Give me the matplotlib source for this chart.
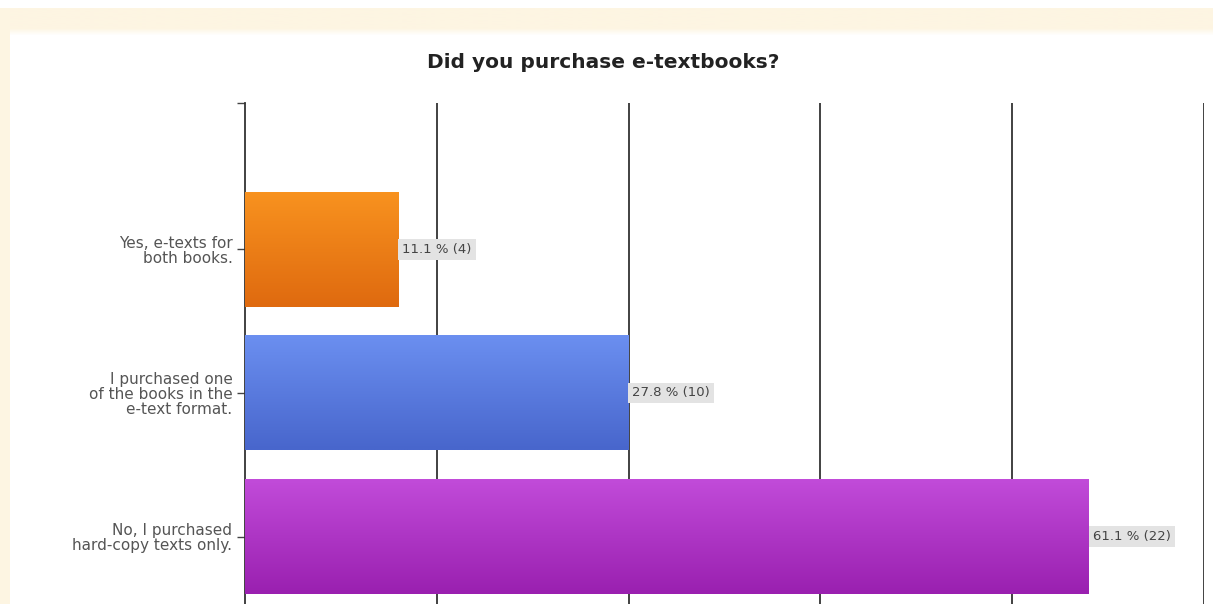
import numpy as np
import matplotlib.pyplot as plt
from matplotlib.colors import to_rgb
from matplotlib.patches import Rectangle

# datos de la encuesta
categorias = ['Yes, e-texts for\nboth books.',
              'I purchased one\nof the books in the\ne-text format.',
              'No, I purchased\nhard-copy texts only.']
porcentajes = [11.1, 27.8, 61.1]
respuestas = [4, 10, 22]
colores_arriba = ['#f8921f', '#6b8ff0', '#c14bd9']
colores_abajo = ['#df6a0f', '#4866cc', '#9a20b0']

plt.rcParams['font.family'] = ['DejaVu Sans']

fig = plt.figure(figsize=(12.13, 6.04), dpi=100)
fig.patch.set_facecolor('white')

# marco crema de la pagina (banda superior con desvanecido y tira izquierda)
banda = np.array([to_rgb('#fdf5e2')] * 20)
banda[14:] = np.linspace(to_rgb('#fdf5e2'), (1, 1, 1), 6)
fondo = fig.add_axes([0, 1 - 36 / 604, 1, 28 / 604], zorder=-1)
fondo.imshow(banda[:, None, :], aspect='auto', interpolation='bilinear')
fondo.axis('off')
fig.patches.append(Rectangle((0, 0), 10 / 1213, 1 - 8 / 604, transform=fig.transFigure,
                             facecolor='#fdf5e2', edgecolor='none', zorder=0))

ax = fig.add_axes([245 / 1213, 0.0, (1204 - 245) / 1213, (604 - 103) / 604])
ax.set_facecolor('none')

y = np.arange(len(categorias))
alto = 0.8
barras = ax.barh(y, respuestas, height=alto, color=colores_abajo, zorder=2)

# degradado vertical en cada barra
for b, c1, c2 in zip(barras, colores_arriba, colores_abajo):
    x0, y0 = b.get_x(), b.get_y()
    w, h = b.get_width(), b.get_height()
    a = np.array(to_rgb(c1))
    z = np.array(to_rgb(c2))
    t = np.linspace(0, 1, 64)[:, None]
    grad = (a * (1 - t) + z * t)[:, None, :]
    ax.imshow(grad, extent=[x0, x0 + w, y0 + h, y0], aspect='auto',
              interpolation='bilinear', zorder=3)

for i, (n, p) in enumerate(zip(respuestas, porcentajes)):
    ax.text(n + 0.1, i, f'{p} % ({n})', va='center', ha='left', fontsize=9.5,
            color='#444444', zorder=4,
            bbox=dict(boxstyle='square,pad=0.3', facecolor='#e3e3e3',
                      edgecolor='none'))

ax.set_xlim(0, 25)
ax.set_ylim(2.47, -1.02)
ax.set_xticks([5, 10, 15, 20, 25])
ax.xaxis.grid(True, color='#333333', linewidth=1.3, zorder=1)
ax.tick_params(axis='x', length=0, labelbottom=False)
ax.set_yticks(list(y) + [-1.02])
ax.set_yticklabels(categorias + [''], fontsize=11, color='#555555',
                   linespacing=1.0)
ax.tick_params(axis='y', length=6, width=1, color='#444444', pad=3)
for s in ['top', 'right', 'bottom']:
    ax.spines[s].set_visible(False)
ax.spines['left'].set_color('#333333')
ax.spines['left'].set_linewidth(1.3)
for lbl in ax.get_yticklabels():
    lbl.set_horizontalalignment('right')
    lbl.set_multialignment('right')

fig.text(603 / 1213, 1 - 62 / 604, 'Did you purchase e-textbooks?',
         ha='center', va='center', fontsize=14.5, fontweight='bold',
         color='#222222')

fig.savefig('out.png', dpi=100)
